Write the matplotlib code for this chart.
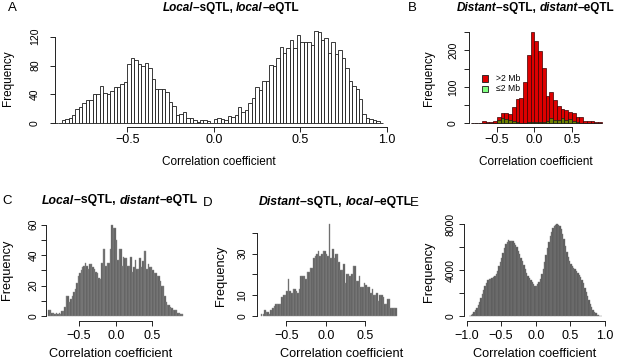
"""Histograms of sQTL/eQTL correlation coefficients (five panels)."""

import matplotlib
matplotlib.use("Agg")
import matplotlib.pyplot as plt
import numpy as np
from matplotlib.patches import Rectangle

plt.rcParams["font.family"] = ["Liberation Sans", "DejaVu Sans"]

W, H = 617, 360

# --- A: local-sQTL, local-eQTL (bins of 0.02 starting at -0.92) ---
a_start, a_width = -0.92, 0.02
a_counts = [1, 1, 5, 6, 8, 12, 20, 23, 28, 32, 32, 41, 41, 51, 42, 40, 45, 50, 50, 55,
            57, 82, 90, 88, 82, 79, 84, 76, 61, 47, 47, 48, 43, 30, 24, 12, 13, 15, 8, 8,
            5, 2, 4, 4, 3, 1, 6, 7, 6, 4, 10, 9, 11, 23, 16, 18, 28, 35, 50, 46,
            59, 58, 81, 79, 90, 106, 97, 104, 116, 104, 122, 113, 113, 112, 108, 128, 127, 115, 118, 97,
            112, 96, 102, 91, 76, 58, 52, 48, 34, 13, 8, 6, 5, 3, 1]

# --- B: distant-sQTL, distant-eQTL (bins of 0.05 starting at -0.85) ---
b_start, b_width = -0.85, 0.05
b_far = [1, 1, 1, 6, 4, 3, 7, 18, 29, 27, 25, 45, 67, 70, 113, 188, 252,
         226, 199, 151, 76, 87, 64, 48, 38, 37, 32, 29, 16, 17, 6, 6, 5, 4, 3]
b_near = [0, 0, 0, 1, 1, 1, 2, 8, 15, 11, 9, 6, 3, 2, 2, 3, 3,
          3, 3, 4, 7, 14, 9, 9, 14, 9, 12, 5, 3, 2, 1, 1, 1, 0, 0]
b_legend = [">2 Mb", "\u22642 Mb"]

# --- C: local-sQTL, distant-eQTL (bins of 0.02 starting at -0.92) ---
c_start, c_width = -0.92, 0.02
c_counts = [4, 4, 2, 2, 1, 2, 1, 2, 1, 3, 3, 6, 13, 13, 9, 11, 13, 16, 18, 22,
            26, 28, 30, 32, 33, 35, 33, 31, 34, 34, 32, 31, 29, 28, 25, 24, 35, 44, 44, 33,
            35, 35, 44, 60, 58, 58, 50, 37, 44, 44, 33, 39, 38, 38, 33, 33, 39, 29, 32, 37,
            31, 31, 38, 32, 36, 43, 43, 31, 34, 32, 32, 30, 28, 28, 26, 26, 23, 20, 20, 13,
            9, 7, 7, 6, 5, 4, 4, 4, 2, 2, 1, 1]

# --- D: distant-sQTL, local-eQTL (bins of 0.02 starting at -0.82) ---
d_start, d_width = -0.82, 0.02
d_counts = [1, 1, 3, 2, 2, 1, 3, 4, 5, 6, 6, 6, 6, 9, 10, 10, 12, 18, 12, 11,
            13, 13, 12, 11, 13, 19, 19, 19, 18, 21, 21, 23, 23, 28, 29, 30, 31, 29, 30, 31,
            31, 30, 29, 44, 28, 32, 28, 30, 30, 26, 22, 22, 25, 16, 20, 20, 19, 20, 24, 24,
            17, 17, 19, 14, 14, 16, 15, 14, 14, 11, 13, 10, 10, 11, 7, 10, 10, 9, 6, 6,
            8, 8, 4, 4, 4, 4]

# --- E: all pairs (bins of 0.02 starting at -0.96) ---
e_start, e_width = -0.96, 0.02
e_counts = [20, 70, 180, 340, 520, 700, 940, 1230, 1540, 1880, 2230, 2600, 2910, 3100, 3200, 3250,
            3310, 3390, 3480, 3660, 3970, 4340, 4700, 5060, 5470, 5900, 6250, 6470, 6590, 6580, 6560, 6510,
            6400, 6230, 5990, 5660, 5380, 5090, 4790, 4460, 4090, 3780, 3480, 3280, 3100, 2960, 2770, 2640,
            2650, 2790, 2980, 3260, 3640, 4140, 4730, 5330, 5930, 6500, 6970, 7330, 7690, 7890, 7970, 7990,
            7930, 7810, 7580, 7170, 6720, 6100, 5590, 5170, 4840, 4580, 4370, 4210, 4060, 3900, 3770, 3600,
            3400, 3140, 2840, 2480, 2120, 1750, 1420, 1050, 760, 510, 340, 220, 120, 50, 10, 0]

fig = plt.figure(figsize=(W / 100, H / 100), dpi=100)


def fx(px):
    return px / W


def fy(py):
    return 1 - py / H


def make_axes(xlim, ylim, xc, xs, yb, yk):
    """Axes placed so that x=0 sits at pixel xc (xs px per unit) and y=0 at pixel yb."""
    left = xc + xs * xlim[0]
    right = xc + xs * xlim[1]
    bottom = yb - yk * ylim[0]
    top = yb - yk * ylim[1]
    ax = fig.add_axes([fx(left), fy(bottom), (right - left) / W, (bottom - top) / H])
    ax.set_xlim(*xlim)
    ax.set_ylim(*ylim)
    ax.patch.set_visible(False)
    for s in ("top", "right"):
        ax.spines[s].set_visible(False)
    for s in ("left", "bottom"):
        ax.spines[s].set_linewidth(0.7)
        ax.spines[s].set_color("#222222")
    return ax


def style_ticks(ax, xticks, xlabels, yticks, ylabels, xsize, ysize, xpad, ypad):
    ax.spines["bottom"].set_bounds(xticks[0], xticks[-1])
    ax.spines["left"].set_bounds(yticks[0], yticks[-1])
    ax.set_xticks(xticks)
    ax.set_xticklabels(xlabels, fontsize=xsize)
    ax.set_yticks(yticks)
    ax.set_yticklabels(ylabels, fontsize=ysize, rotation=90, va="center")
    ax.tick_params(axis="x", length=3.6, width=0.7, color="#222222", pad=xpad)
    ax.tick_params(axis="y", length=3.6, width=0.7, color="#222222", pad=ypad)


def rich_title(cx, cy, parts, size):
    """Bold title centred at pixel (cx, cy); parts are (text, fontstyle)."""
    renderer = fig.canvas.get_renderer()
    texts, widths = [], []
    for s, st in parts:
        t = fig.text(0, fy(cy), s, fontsize=size, fontweight="bold", style=st,
                     ha="left", va="center")
        widths.append(t.get_window_extent(renderer).width)
        texts.append(t)
    x = cx - sum(widths) / 2
    for t, w in zip(texts, widths):
        t.set_x(fx(x))
        x += w


def label(px, py, s, size, **kw):
    fig.text(fx(px), fy(py), s, fontsize=size, ha="center", va="center", **kw)


def edges(start, width, n):
    return start + width * np.arange(n)


MINUS = "\u2212"

# ---------- Panel A ----------
ax = make_axes((-0.92, 1.0), (-4.7, 130), 213.8, 172.9, 123.3, 0.7217)
ax.bar(edges(a_start, a_width, len(a_counts)), a_counts, width=a_width, align="edge",
       facecolor="white", edgecolor="#1a1a1a", linewidth=0.6)
style_ticks(ax, [-0.5, 0.0, 0.5, 1.0], [MINUS + "0.5", "0.0", "0.5", "1.0"],
            [0, 40, 80, 120], ["0", "40", "80", "120"], 9, 7.5, 1.6, 7)
label(219, 162, "Correlation coefficient", 8.5)
label(8.5, 78, "Frequency", 8.5, rotation=90)
rich_title(231, 8, [("Local", "italic"), ("\u2013sQTL, ", "normal"),
                    ("local", "italic"), ("\u2013eQTL", "normal")], 8.5)
label(12, 8, "A", 9.5)

# ---------- Panel B ----------
ax = make_axes((-0.867, 0.95), (-9.3, 260), 534.3, 75.0, 123.3, 0.364)
ax.bar(edges(b_start, b_width, len(b_far)), b_far, width=b_width, align="edge",
       facecolor="#dd0000", edgecolor="#3a0000", linewidth=0.5)
ax.bar(edges(b_start, b_width, len(b_near)), b_near, width=b_width, align="edge",
       facecolor=(0, 1, 0, 0.5), edgecolor="#1a1a1a", linewidth=0.5)
style_ticks(ax, [-0.5, 0.0, 0.5], [MINUS + "0.5", "0.0", "0.5"],
            [0, 50, 100, 150, 200, 250], ["0", "", "100", "", "200", ""], 9, 7.5, 1.6, 4.5)
label(536, 162.5, "Correlation coefficient", 8.5)
label(428.5, 78, "Frequency", 8.5, rotation=90)
rich_title(535.5, 8, [("Distant", "italic"), ("\u2013sQTL, ", "normal"),
                      ("distant", "italic"), ("\u2013eQTL", "normal")], 8.5)
label(412, 8, "B", 9.5)
for i, (txt, col) in enumerate(zip(b_legend, ["#dd0000", (0.5, 1, 0.5)])):
    fig.add_artist(Rectangle((fx(481.5), fy(81.5 + 10.3 * i)), 6.5 / W, 6.0 / H,
                             transform=fig.transFigure, facecolor=col,
                             edgecolor="#1a1a1a", linewidth=0.6))
    fig.text(fx(496.5), fy(78.3 + 10.3 * i), txt, fontsize=6.2, ha="left", va="center")

# ---------- Panel C ----------
ax = make_axes((-0.955, 0.95), (-3.1, 62), 115.7, 73.3, 316, 1.522)
ax.bar(edges(c_start, c_width, len(c_counts)), c_counts, width=c_width, align="edge",
       facecolor="#5c5c5c", edgecolor="#8c8c8c", linewidth=0.3)
style_ticks(ax, [-0.5, 0.0, 0.5], [MINUS + "0.5", "0.0", "0.5"],
            [0, 10, 20, 30, 40, 50, 60], ["0", "", "20", "", "40", "", "60"], 9, 7.5, 3.2, 1.5)
label(111, 354, "Correlation coefficient", 9.2)
label(7.5, 270, "Frequency", 9.2, rotation=90)
rich_title(120, 200.5, [("Local", "italic"), ("\u2013sQTL, ", "normal"),
                        ("distant", "italic"), ("\u2013eQTL", "normal")], 8.8)
label(7, 200.5, "C", 9.5)

# ---------- Panel D ----------
ax = make_axes((-0.865, 0.92), (-2.26, 46), 325.7, 79.0, 316, 2.083)
ax.bar(edges(d_start, d_width, len(d_counts)), d_counts, width=d_width, align="edge",
       facecolor="#5c5c5c", edgecolor="#8c8c8c", linewidth=0.3)
style_ticks(ax, [-0.5, 0.0, 0.5], [MINUS + "0.5", "0.0", "0.5"],
            [0, 10, 20, 30, 40], ["0", "10", "", "30", ""], 9, 7.5, 3.2, 3.5)
label(342, 354, "Correlation coefficient", 9.2)
label(221, 276, "Frequency", 9.2, rotation=90)
rich_title(335, 202, [("Distant", "italic"), ("\u2013sQTL, ", "normal"),
                      ("local", "italic"), ("\u2013eQTL", "normal")], 8.8)
label(414.5, 203, "E", 9.5)

# ---------- Panel E ----------
ax = make_axes((-1.035, 1.02), (-410, 8300), 535.7, 69.2, 316, 0.01146)
ax.bar(edges(e_start, e_width, len(e_counts)), e_counts, width=e_width, align="edge",
       facecolor="#585858", edgecolor="#7a7a7a", linewidth=0.3)
style_ticks(ax, [-1.0, -0.5, 0.0, 0.5, 1.0],
            [MINUS + "1.0", MINUS + "0.5", "0.0", "0.5", "1.0"],
            [0, 2000, 4000, 6000, 8000], ["0", "", "4000", "", "8000"], 9, 7.5, 3.2, 2.5)
label(535, 354, "Correlation coefficient", 9.2)
label(428.5, 272, "Frequency", 9.2, rotation=90)
label(208, 203, "D", 9.5)

fig.savefig("out.png", dpi=100)
